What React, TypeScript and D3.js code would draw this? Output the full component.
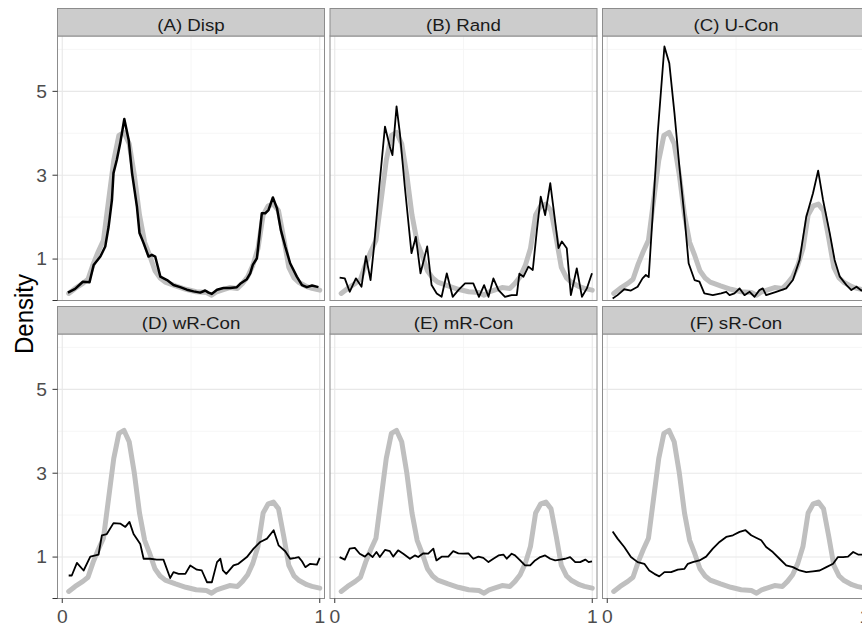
import * as d3 from "d3";

const panelTitles = ["(A) Disp", "(B) Rand", "(C) U-Con", "(D) wR-Con", "(E) mR-Con", "(F) sR-Con"];
const yTicks = [1, 3, 5];
const yMinor = [2, 4, 6];
const xTicks = [0, 1];
const xMinor = [0.5];

// grey reference density (same in every panel)
const refPts = [
  [0.025, 0.18], [0.05, 0.3], [0.08, 0.42], [0.1, 0.52], [0.12, 0.88], [0.14, 1.18], [0.16, 1.45],
  [0.18, 2.4], [0.2, 3.35], [0.22, 3.95], [0.24, 4.02], [0.26, 3.75], [0.28, 3.0], [0.3, 2.05],
  [0.32, 1.4], [0.34, 1.08], [0.36, 0.72], [0.38, 0.55], [0.4, 0.45], [0.44, 0.36], [0.48, 0.28],
  [0.52, 0.22], [0.56, 0.2], [0.58, 0.14], [0.6, 0.22], [0.62, 0.26], [0.65, 0.32], [0.68, 0.3],
  [0.7, 0.42], [0.72, 0.58], [0.74, 0.85], [0.76, 1.25], [0.78, 2.05], [0.8, 2.27], [0.82, 2.31],
  [0.84, 2.15], [0.86, 1.5], [0.88, 0.8], [0.9, 0.55], [0.92, 0.44], [0.95, 0.34], [0.97, 0.3], [1.0, 0.26],
];

const dispPts = [
  [0.022, 0.2], [0.05, 0.29], [0.08, 0.46], [0.106, 0.45], [0.122, 0.86], [0.148, 1.06], [0.167, 1.3],
  [0.18, 1.77], [0.193, 2.41], [0.199, 3.05], [0.212, 3.37], [0.225, 3.76], [0.241, 4.34], [0.258, 3.84],
  [0.271, 3.05], [0.29, 2.25], [0.3, 1.62], [0.316, 1.38], [0.335, 1.06], [0.348, 1.1], [0.361, 1.06],
  [0.381, 0.58], [0.407, 0.5], [0.432, 0.38], [0.458, 0.33], [0.484, 0.27], [0.51, 0.23], [0.536, 0.2],
  [0.555, 0.25], [0.568, 0.2], [0.581, 0.17], [0.601, 0.27], [0.626, 0.31], [0.652, 0.31], [0.678, 0.33],
  [0.691, 0.41], [0.717, 0.52], [0.73, 0.66], [0.74, 0.86], [0.756, 1.02], [0.775, 2.09], [0.788, 2.09],
  [0.801, 2.17], [0.818, 2.47], [0.834, 2.21], [0.849, 1.69], [0.866, 1.3], [0.885, 0.9], [0.911, 0.58],
  [0.931, 0.38], [0.95, 0.33], [0.97, 0.37], [0.995, 0.33],
];

const randPts = [
  [0.019, 0.56], [0.039, 0.54], [0.058, 0.22], [0.082, 0.54], [0.104, 0.34], [0.121, 1.07], [0.139, 0.5],
  [0.152, 1.26], [0.173, 2.73], [0.195, 4.16], [0.214, 3.68], [0.224, 3.48], [0.24, 4.64], [0.253, 4.0],
  [0.272, 2.73], [0.298, 1.14], [0.315, 1.53], [0.333, 0.66], [0.359, 1.3], [0.376, 0.38], [0.396, 0.18],
  [0.415, 0.1], [0.435, 0.66], [0.458, 0.1], [0.48, 0.26], [0.506, 0.42], [0.538, 0.42], [0.56, 0.1],
  [0.58, 0.38], [0.597, 0.1], [0.616, 0.54], [0.636, 0.26], [0.661, 0.1], [0.687, 0.14], [0.707, 0.14],
  [0.717, 0.65], [0.733, 0.58], [0.752, 0.82], [0.769, 0.74], [0.785, 1.69], [0.8, 2.49], [0.817, 2.05],
  [0.837, 2.81], [0.847, 2.33], [0.869, 1.26], [0.882, 1.42], [0.901, 1.26], [0.917, 0.14], [0.94, 0.78],
  [0.96, 0.1], [0.979, 0.3], [0.999, 0.66],
];

const uConPts = [
  [0.021, 0.06], [0.04, 0.14], [0.066, 0.28], [0.092, 0.25], [0.118, 0.34], [0.137, 0.54], [0.15, 0.62],
  [0.161, 0.57], [0.176, 2.01], [0.196, 4.0], [0.222, 6.07], [0.241, 5.67], [0.261, 4.48], [0.28, 3.21],
  [0.3, 2.01], [0.316, 0.9], [0.339, 0.5], [0.358, 0.46], [0.377, 0.18], [0.41, 0.14], [0.442, 0.18],
  [0.462, 0.22], [0.475, 0.14], [0.494, 0.18], [0.514, 0.3], [0.533, 0.14], [0.553, 0.22], [0.572, 0.1],
  [0.591, 0.26], [0.604, 0.3], [0.617, 0.14], [0.656, 0.22], [0.695, 0.3], [0.721, 0.5], [0.747, 0.98],
  [0.773, 2.01], [0.799, 2.57], [0.819, 3.11], [0.838, 2.41], [0.864, 1.62], [0.883, 0.98], [0.903, 0.58],
  [0.929, 0.38], [0.948, 0.26], [0.968, 0.34], [0.987, 0.25], [1.0, 0.28],
];

const wrConPts = [
  [0.025, 0.56], [0.037, 0.56], [0.057, 0.86], [0.083, 0.68], [0.109, 1.01], [0.141, 1.06], [0.154, 1.52],
  [0.173, 1.55], [0.199, 1.81], [0.225, 1.8], [0.245, 1.72], [0.261, 1.84], [0.277, 1.55], [0.303, 1.31],
  [0.316, 0.96], [0.341, 0.96], [0.367, 0.94], [0.393, 0.94], [0.419, 0.5], [0.432, 0.64], [0.452, 0.6],
  [0.478, 0.6], [0.497, 0.8], [0.523, 0.7], [0.542, 0.68], [0.562, 0.4], [0.581, 0.4], [0.601, 0.88],
  [0.614, 0.96], [0.624, 0.68], [0.637, 0.6], [0.665, 0.8], [0.684, 0.84], [0.717, 1.0], [0.743, 1.2],
  [0.769, 1.36], [0.795, 1.44], [0.821, 1.64], [0.84, 1.28], [0.866, 1.14], [0.885, 0.96], [0.905, 0.98],
  [0.918, 1.0], [0.931, 0.9], [0.944, 0.76], [0.963, 0.84], [0.989, 0.82], [1.0, 0.98],
];

const mrConPts = [
  [0.019, 1.0], [0.039, 0.94], [0.058, 1.2], [0.078, 1.22], [0.097, 1.08], [0.117, 1.01], [0.13, 1.09],
  [0.147, 1.0], [0.162, 1.12], [0.175, 1.0], [0.195, 1.17], [0.214, 1.14], [0.227, 1.01], [0.246, 1.16],
  [0.266, 1.08], [0.292, 0.96], [0.311, 1.04], [0.324, 1.0], [0.344, 1.09], [0.363, 1.08], [0.383, 1.2],
  [0.395, 0.92], [0.415, 1.01], [0.441, 1.01], [0.46, 1.14], [0.48, 1.09], [0.499, 1.08], [0.519, 1.09],
  [0.538, 0.96], [0.558, 1.01], [0.577, 0.98], [0.597, 0.88], [0.616, 0.96], [0.636, 1.04], [0.655, 1.06],
  [0.668, 0.96], [0.687, 1.08], [0.7, 1.04], [0.72, 0.92], [0.739, 0.8], [0.759, 0.8], [0.778, 0.92],
  [0.798, 1.0], [0.817, 1.04], [0.837, 0.96], [0.856, 0.92], [0.876, 0.94], [0.895, 0.96], [0.914, 1.0],
  [0.934, 0.88], [0.953, 0.88], [0.973, 0.94], [0.986, 0.88], [0.999, 0.9],
];

const srConPts = [
  [0.021, 1.61], [0.04, 1.44], [0.066, 1.24], [0.092, 1.0], [0.118, 0.88], [0.144, 0.84], [0.163, 0.68],
  [0.183, 0.6], [0.202, 0.54], [0.222, 0.64], [0.248, 0.64], [0.274, 0.7], [0.3, 0.72], [0.313, 0.84],
  [0.332, 0.88], [0.358, 0.92], [0.384, 1.01], [0.41, 1.2], [0.436, 1.36], [0.462, 1.48], [0.488, 1.52],
  [0.514, 1.6], [0.537, 1.64], [0.559, 1.52], [0.578, 1.46], [0.598, 1.4], [0.617, 1.24], [0.643, 1.12],
  [0.669, 0.96], [0.695, 0.8], [0.721, 0.76], [0.747, 0.68], [0.773, 0.64], [0.799, 0.66], [0.825, 0.68],
  [0.851, 0.76], [0.877, 0.84], [0.896, 1.0], [0.916, 1.0], [0.935, 1.01], [0.955, 1.12], [0.974, 1.06],
  [0.993, 1.06],
];

const seriesList = [dispPts, randPts, uConPts, wrConPts, mrConPts, srConPts];

const W = 862;
const H = 626;
const colLeft = [57.5, 330, 602.5];
const panelTop = [36, 334];
const panelW = 267;
const panelH = 264.5;
const stripH = 27.5;
const font = "'Liberation Sans', Arial, sans-serif";
const border = "#8c8c8c";

const x = d3.scaleLinear().domain([0, 1]).range([4.75, 262.25]);
const y = d3.scaleLinear().domain([0, 6.32]).range([265, 0]);
const line = d3
  .line<number[]>()
  .x((d) => x(d[0]))
  .y((d) => y(d[1]));

function Panel({ idx }: { idx: number }) {
  const col = idx % 3;
  const row = Math.floor(idx / 3);
  const left = colLeft[col];
  const top = panelTop[row];
  return (
    <g transform={`translate(${left},${top})`}>
      <rect x={0} y={0} width={panelW} height={panelH} fill="#ffffff" />
      {yMinor.map((v) => (
        <line key={"ym" + v} x1={0} x2={panelW} y1={y(v)} y2={y(v)} stroke="#f4f4f4" strokeWidth={0.8} />
      ))}
      {xMinor.map((v) => (
        <line key={"xm" + v} x1={x(v)} x2={x(v)} y1={0} y2={panelH} stroke="#f4f4f4" strokeWidth={0.8} />
      ))}
      {yTicks.map((v) => (
        <line key={"yg" + v} x1={0} x2={panelW} y1={y(v)} y2={y(v)} stroke="#e8e8e8" strokeWidth={1.1} />
      ))}
      {xTicks.map((v) => (
        <line key={"xg" + v} x1={x(v)} x2={x(v)} y1={0} y2={panelH} stroke="#e8e8e8" strokeWidth={1.1} />
      ))}
      <path d={line(refPts) || ""} fill="none" stroke="#bfbfbf" strokeWidth={5} strokeLinejoin="round" strokeLinecap="round" />
      <path
        d={line(seriesList[idx]) || ""}
        fill="none"
        stroke="#000000"
        strokeWidth={idx === 0 ? 2.5 : 1.8}
        strokeLinejoin="round"
      />
      <rect x={0} y={0} width={panelW} height={panelH} fill="none" stroke={border} strokeWidth={1} />
      <rect x={0} y={-stripH} width={panelW} height={stripH} fill="#cccccc" stroke={border} strokeWidth={1} />
      <text
        transform={`translate(${panelW / 2},${-5.5}) scale(1.1,1)`}
        textAnchor="middle"
        fontFamily={font}
        fontSize={17}
        fill="#1a1a1a"
      >
        {panelTitles[idx]}
      </text>
      {col === 0 && (
        <g>
          {yTicks.map((v) => (
            <g key={"yt" + v}>
              <line x1={-5} x2={0} y1={y(v)} y2={y(v)} stroke="#333333" strokeWidth={1} />
              <text
                transform={`translate(${-10.5},${y(v) + 6.3}) scale(1.1,1)`}
                textAnchor="end"
                fontFamily={font}
                fontSize={17.5}
                fill="#4d4d4d"
              >
                {v}
              </text>
            </g>
          ))}
          <line x1={-5} x2={0} y1={panelH} y2={panelH} stroke="#333333" strokeWidth={1} />
        </g>
      )}
      {row === 1 &&
        xTicks.map((v) => (
          <g key={"xt" + v}>
            <line x1={x(v)} x2={x(v)} y1={panelH} y2={panelH + 4.5} stroke="#333333" strokeWidth={1} />
            <text
              transform={`translate(${x(v)},${panelH + 24.2}) scale(1.1,1)`}
              textAnchor="middle"
              fontFamily={font}
              fontSize={17.5}
              fill="#4d4d4d"
            >
              {v}
            </text>
          </g>
        ))}
    </g>
  );
}

export default function App() {
  return (
    <svg
      width={W}
      height={H}
      viewBox={`0 0 ${W} ${H}`}
      style={{ position: "absolute", left: 0, top: 0, background: "#ffffff" }}
    >
      <rect x={0} y={0} width={W} height={H} fill="#ffffff" />
      {panelTitles.map((_, i) => (
        <Panel key={i} idx={i} />
      ))}
      <text
        transform={`translate(33,314) rotate(-90) scale(1,1.1)`}
        textAnchor="middle"
        fontFamily={font}
        fontSize={24}
        fill="#000000"
      >
        Density
      </text>
    </svg>
  );
}
